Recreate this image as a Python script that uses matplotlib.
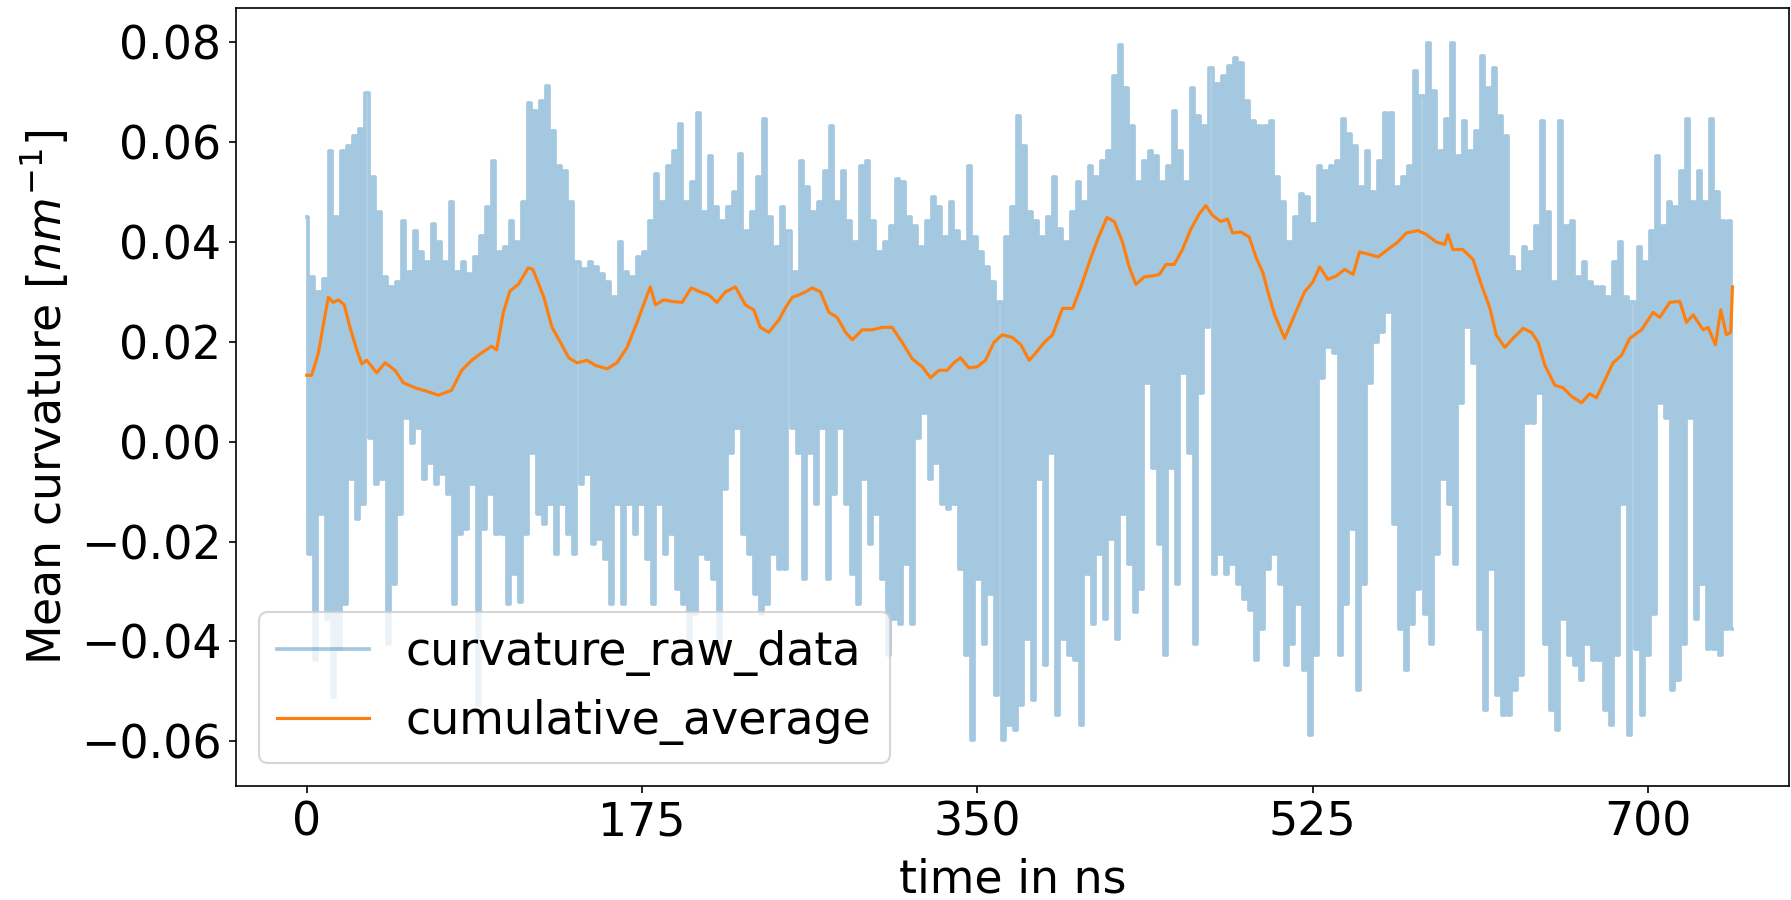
# Mean curvature of the membrane over the trajectory, raw values and running average
import numpy as np
import matplotlib.pyplot as plt

plt.rcParams['font.size'] = 22

# raw curvature, given as alternating local maxima / minima along the run (units of 1e-3 nm^-1)
raw_peaks = [
    45.1, 33.0, 30.0, 32.5, 58.2, 45.1, 58.2, 59.2, 61.2, 62.7, 69.8, 53.1, 46.1,
    33.0, 31.0, 32.0, 44.1, 34.0, 42.1, 38.0, 36.0, 43.6, 40.0, 36.0, 48.1, 34.0,
    36.0, 33.5, 37.0, 41.1, 47.1, 56.2, 38.0, 39.0, 44.1, 40.0, 48.1, 67.8, 66.3,
    68.3, 71.3, 62.2, 55.2, 54.2, 48.1, 36.0, 34.5, 36.0, 35.0, 33.5, 32.0, 28.9,
    40.0, 34.0, 33.0, 37.0, 38.0, 44.1, 53.6, 48.1, 55.2, 58.2, 63.7, 48.1, 52.1,
    65.8, 46.1, 57.2, 47.1, 44.1, 47.1, 50.1, 57.7, 42.1, 46.1, 53.1, 64.7, 45.1, 39.0,
    47.1, 42.1, 34.0, 56.2, 51.1, 46.1, 48.1, 54.2, 63.2, 48.1, 54.2, 44.1, 40.0,
    55.2, 56.2, 44.1, 38.0, 40.0, 43.1, 52.6, 52.1, 45.1, 43.1, 39.0, 44.1, 49.1,
    47.1, 41.0, 48.1, 42.1, 40.0, 55.2, 41.0, 38.0, 35.0, 31.9, 27.9, 41.0, 47.1, 65.2,
    59.2, 46.1, 44.1, 41.0, 45.1, 53.1, 42.6, 40.0, 46.1, 52.1, 48.1, 55.2, 53.1,
    56.2, 58.2, 73.3, 79.4, 70.8, 63.2, 52.1, 56.2, 58.2, 57.2, 52.1, 55.2, 66.3,
    58.2, 52.1, 70.8, 65.3, 63.2, 74.8, 71.6, 73.3, 75.3, 76.8, 75.8, 68.3, 64.2, 63.2,
    63.2, 64.2, 53.1, 48.1, 40.0, 45.1, 49.6, 49.1, 43.6, 55.2, 54.2, 55.2, 56.2,
    64.7, 61.7, 59.2, 51.1, 58.2, 50.1, 56.2, 65.8, 65.8, 51.1, 53.1, 55.2, 74.3,
    69.3, 79.9, 70.3, 58.2, 64.7, 79.9, 57.2, 64.2, 58.2, 62.2, 77.3, 70.8, 74.8, 65.2,
    61.2, 37.0, 34.0, 39.0, 38.0, 43.1, 64.2, 46.1, 32.0, 64.2, 43.1, 44.1, 33.0,
    36.0, 32.0, 31.0, 31.0, 28.9, 36.0, 40.0, 28.9, 27.9, 39.0, 36.0, 42.1, 57.2,
    43.1, 48.1, 47.1, 54.2, 64.7, 48.1, 54.2, 48.1, 64.7, 50.1, 44.1, 44.1,
]
raw_troughs = [
    -22.5, -43.7, -14.4, -35.6, -51.2, -41.6, -32.6, -7.4, -15.4, -12.4, 0.7, -8.4, -7.4,
    -40.6, -28.5, -14.4, 4.7, -0.3, 2.7, -7.4, -4.3, -8.4, -6.4, -10.4, -32.6, -18.5,
    -17.4, -8.4, -52.7, -17.4, -10.4, -18.5, -18.5, -32.6, -26.5, -32.1, -18.5, -2.3, -14.4,
    -16.4, -12.4, -22.5, -12.4, -18.5, -22.5, -8.4, -6.4, -20.5, -19.5, -23.5, -32.6, -12.4,
    -32.6, -12.4, -18.5, -12.4, -23.5, -32.6, -12.4, -22.5, -18.5, -29.5, -32.6, -40.6,
    -34.6, -22.5, -23.5, -27.5, -42.7, -9.4, -2.3, 2.7, -18.5, -22.5, -30.6, -34.6, -32.6,
    -22.5, -25.5,
    -25.5, 2.7, -2.3, -27.5, -2.3, -12.4, 2.7, -27.5, -10.4, 2.7, -12.4, -26.5, -32.6,
    -7.4, -20.5, -14.4, -27.5, -42.7, -35.6, -36.6, -24.5, -36.6, 0.7, 5.7, -7.4, -4.3,
    -12.4, -13.4, -12.4, -25.5, -42.7, -59.8, -27.5, -40.6, -30.6, -50.7, -59.8, -56.8,
    -57.8, -52.7,
    -39.6, -51.7, -7.4, -44.7, -2.3, -54.8, -39.6, -42.7, -43.7, -56.8, -26.5, -36.6, -22.5,
    -35.6, -19.5, -39.6, -14.4, -24.5, -34.1, -29.5, 11.8, -5.3, -20.5, -42.7, -5.3, -28.5,
    13.8, -2.3, -40.6, 9.8, 22.9, -26.5, -22.5, -26.5, -24.5, -28.5, -31.6, -33.7, -43.7,
    -37.6,
    -25.5, -22.5, -28.5, -44.7, -40.6, -32.6, -45.7, -58.8, -42.7, 12.8, 18.9, 17.8, -42.7,
    -32.6, -17.4, -49.7, -28.5, 11.8, 19.9, 21.9, 25.9, -16.4, -37.6, -45.7, -36.6, -29.5,
    -34.6, -40.6, -22.5, -7.4, -12.4, -24.5, 7.8, 22.9, 15.8, -37.6, -53.8, -25.5, -50.7,
    -54.8,
    -54.8, -49.7, -46.7, 3.7, 3.7, 9.8, -40.6, -53.8, -57.8, -35.6, -42.7, -44.7, -47.7,
    -40.6, -43.7, -43.7, -53.8, -56.8, -42.7, -12.4, -58.8, -41.6, -54.8, -42.7, -34.6,
    7.8, 4.7, -49.7, -47.7, -40.6, 4.7, -35.6, -28.5, -41.6, -41.6, -42.7, -37.6, -37.6,
]
t_end = 744

# running average of the curvature
avg_time = [
    0, 2.6, 6.1, 9.6, 11.3, 13.9, 16.5, 19.6, 22.6, 26.1, 28.7, 31.3, 36.5, 40.9, 46.1,
    50.4, 56.5, 63.5, 68.7, 75.6, 80.9, 86.1, 91.3, 96.5, 99.1, 102.6, 106.1, 110.4,
    115.6, 118, 123.7, 128, 132.4, 136.7, 141, 146.3, 150.6, 156.7, 161.9, 167.2, 172.4,
    176.7, 179.3, 182, 186.3, 190.6, 195.9, 200.6, 205.4, 209.8, 214.1, 218.5, 223.7,
    228.9, 233.3, 236.7, 241.1, 246.4, 249.9, 253.4, 256.8, 260.3, 263.8, 268.1, 272.5,
    276.8, 281.2, 284.7, 289.9, 295.1, 300.3, 305.5, 310.7, 316, 321.2, 325.5, 329.9,
    334.2, 337.7, 341.2, 345.5, 349.9, 354.2, 358.6, 362.9, 368.1, 372.7, 377, 380.5,
    384.9, 389.2, 394.4, 399.7, 404, 408.4, 412.7, 417.6, 421.4, 425.7, 429.2, 432.7,
    437, 441.4, 444.9, 448.4, 452.7, 457, 461.4, 465.7, 469.2, 472.7, 477, 480.5, 483.1,
    487.5, 491.8, 495.3, 499, 501.6, 505.1, 510.3, 515.5, 520.7, 525.1, 528.6, 532.9,
    537.3, 541.6, 546, 549.4, 554.7, 559, 564.2, 569.4, 573.8, 579.9, 584.2, 589.4,
    593.8, 595.5, 598.1, 603.3, 608.6, 612.9, 617.3, 620.7, 625.2, 629.5, 634.8, 639.1,
    642.6, 646.1, 651.3, 655.6, 660, 665.2, 669.5, 673, 677.4, 681.7, 686.1, 690.4,
    696.5, 702.6, 706.1, 711.3, 716.5, 720, 723.5, 728.7, 731.3, 735.1, 737.9, 740.8,
    743.1, 744,
]
avg_curv = [
    0.0133, 0.0133, 0.0178, 0.0254, 0.0289, 0.0279, 0.0284, 0.0274, 0.0229, 0.0184,
    0.0156, 0.0163, 0.0138, 0.0158, 0.0143, 0.0118, 0.0108, 0.0100, 0.0093, 0.0103,
    0.0143, 0.0163, 0.0178, 0.0191, 0.0184, 0.0259, 0.0302, 0.0315, 0.0348, 0.0345,
    0.0290, 0.0229, 0.0199, 0.0168, 0.0158, 0.0163, 0.0153, 0.0146, 0.0158, 0.0189,
    0.0239, 0.0284, 0.0310, 0.0274, 0.0284, 0.0281, 0.0279, 0.0308, 0.0300, 0.0294,
    0.0279, 0.0300, 0.0310, 0.0274, 0.0264, 0.0229, 0.0219, 0.0244, 0.0269, 0.0289,
    0.0294, 0.0300, 0.0308, 0.0300, 0.0259, 0.0249, 0.0219, 0.0204, 0.0224, 0.0224,
    0.0229, 0.0229, 0.0199, 0.0166, 0.0150, 0.0128, 0.0143, 0.0143, 0.0158, 0.0168,
    0.0148, 0.0150, 0.0163, 0.0199, 0.0214, 0.0209, 0.0194, 0.0163, 0.0178, 0.0199,
    0.0214, 0.0267, 0.0267, 0.0310, 0.0360, 0.0405, 0.0449, 0.0441, 0.0400, 0.0350,
    0.0315, 0.0330, 0.0332, 0.0335, 0.0355, 0.0355, 0.0385, 0.0426, 0.0456, 0.0473,
    0.0453, 0.0441, 0.0446, 0.0418, 0.0420, 0.0410, 0.0370, 0.0338, 0.0300, 0.0254,
    0.0207, 0.0254, 0.0300, 0.0320, 0.0350, 0.0325, 0.0332, 0.0345, 0.0335, 0.0380,
    0.0375, 0.0370, 0.0385, 0.0400, 0.0418, 0.0423, 0.0415, 0.0400, 0.0395, 0.0415,
    0.0385, 0.0385, 0.0365, 0.0315, 0.0269, 0.0214, 0.0189, 0.0207, 0.0227, 0.0219,
    0.0199, 0.0153, 0.0113, 0.0108, 0.0091, 0.0078, 0.0096, 0.0088, 0.0123, 0.0158,
    0.0173, 0.0207, 0.0224, 0.0259, 0.0249, 0.0279, 0.0281, 0.0239, 0.0254, 0.0224,
    0.0229, 0.0194, 0.0264, 0.0214, 0.0219, 0.0310,
]

# put the maxima and minima back in time order
raw = np.column_stack([raw_peaks, raw_troughs]).ravel() * 1e-3
raw_time = np.linspace(0, t_end, len(raw))

fig = plt.figure(figsize=(1791 / 150, 900 / 150), dpi=150)
ax = fig.add_axes([236 / 1791, 114 / 900, 1553 / 1791, 778 / 900])

# steps keep every swing vertical, so the dense band fills in
ax.plot(raw_time, raw, color='C0', alpha=0.4, lw=1.8, drawstyle='steps-mid',
        label='curvature_raw_data')
ax.plot(avg_time, avg_curv, color='C1', label='cumulative_average')

ax.set_xlim(-36.9, 773.5)
ax.set_ylim(-0.06896, 0.08686)
ax.set_xticks([0, 175, 350, 525, 700])
ax.set_yticks([-0.06, -0.04, -0.02, 0.0, 0.02, 0.04, 0.06, 0.08])
ax.set_xlabel('time in ns', labelpad=5.5)
ax.set_ylabel('Mean curvature [$nm^{-1}$]')
ax.legend(loc='lower left')

fig.savefig('out.png', dpi=150)
